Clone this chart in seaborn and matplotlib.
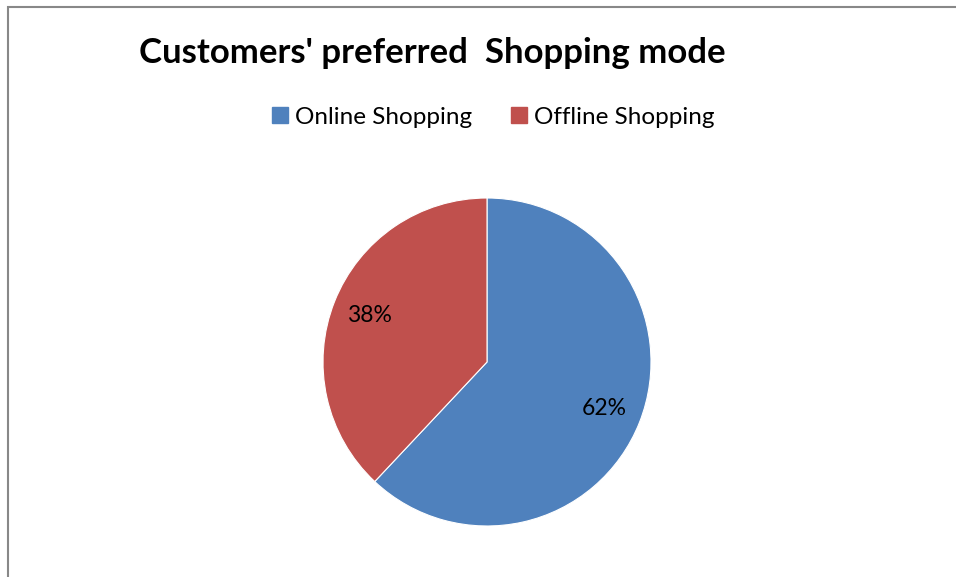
import matplotlib
matplotlib.use("Agg")
import matplotlib.pyplot as plt
import seaborn as sns
from matplotlib.patches import Rectangle
from matplotlib.lines import Line2D

categories = ["Online Shopping", "Offline Shopping"]
values = [62, 38]
colors = ["#4F81BD", "#C0504D"]
title = "Customers' preferred  Shopping mode"

sns.set_theme(style="white")
plt.rcParams['font.family'] = ['Lato', 'DejaVu Sans']
plt.rcParams['text.color'] = 'black'

W, H = 956, 577
fig = plt.figure(figsize=(W / 100, H / 100), dpi=100)
fig.patch.set_facecolor("white")

# border
fig.patches.append(Rectangle((8 / W, -0.05), 1.1, 1 - 7 / H + 0.05, transform=fig.transFigure,
                             fill=False, edgecolor="#888888", linewidth=1.5))

cx, cy, r = 487, 362, 164
ax = fig.add_axes([(cx - r) / W, (H - cy - r) / H, 2 * r / W, 2 * r / H])
wedges, texts, autotexts = ax.pie(values, colors=colors, startangle=90, counterclock=False,
                                  autopct=lambda p: f"{p:.0f}%", pctdistance=0.77,
                                  wedgeprops=dict(edgecolor="white", linewidth=0.8),
                                  textprops=dict(fontsize=16.5, color="black"))
ax.set_xlim(-1, 1)
ax.set_ylim(-1, 1)
ax.set_aspect("equal")
ax.axis("off")

fig.text(432 / W, 1 - 53 / H, title, ha="center", va="center", fontsize=25, fontweight="bold",
         color="black")

handles = [Line2D([0], [0], marker="s", linestyle="none", markersize=11,
                  markerfacecolor=c, markeredgecolor=c) for c in colors]
leg = fig.legend(handles, categories, loc="center", bbox_to_anchor=(492 / W, 1 - 117 / H), ncol=2,
                 frameon=False, fontsize=17.5, handletextpad=0.15, columnspacing=1.5,
                 handlelength=0.9)
for t in leg.get_texts():
    t.set_color("black")

fig.savefig("out.png", dpi=100)
